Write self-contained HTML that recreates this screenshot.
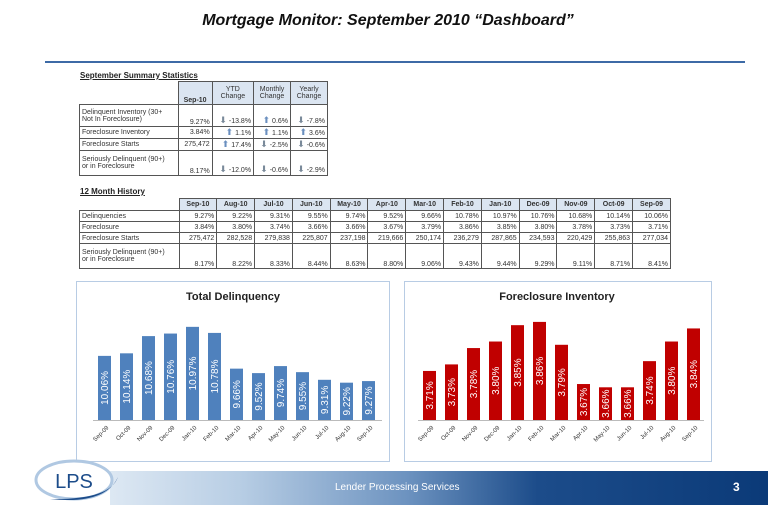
<!DOCTYPE html>
<html><head><meta charset="utf-8"><style>
body{margin:0;width:768px;height:511px;background:#fff;position:relative;overflow:hidden;font-family:"Liberation Sans",sans-serif}
.a{position:absolute}
table{border-collapse:collapse;position:absolute;font-size:7px;color:#333}
td{border:1px solid #555;padding:0 2px;height:10px;text-align:right;white-space:nowrap}
td.l{text-align:left}
th{background:#dbe5f1;border:1px solid #555;font-weight:bold;font-size:7px;padding:0 2px;text-align:center}
.up{color:#6a8fbf;font-size:9px}.dn{color:#7a8a9a;font-size:9px}
.st{font-size:8px;font-weight:bold;text-decoration:underline;color:#222}
</style></head><body>
<div class="a" style="left:0;width:776px;top:12px;text-align:center;font-size:16px;font-weight:bold;font-style:italic;color:#111">Mortgage Monitor: September 2010 “Dashboard”</div>
<div class="a" style="left:45px;width:700px;top:61px;height:2px;background:#3d6aa6"></div>
<div class="a st" style="left:80px;top:71px">September Summary Statistics</div>
<table style="left:79px;top:81px;width:249px">
<tr style="height:23px"><td style="border:none;border-right:1px solid #555;width:94px"></td><th style="vertical-align:bottom">Sep-10</th><th style="font-weight:normal">YTD<br>Change</th><th style="font-weight:normal">Monthly<br>Change</th><th style="font-weight:normal">Yearly<br>Change</th></tr>
<tr style="height:22px"><td class="l">Delinquent Inventory (30+<br>Not In Foreclosure)</td><td style="vertical-align:bottom">9.27%</td><td style="vertical-align:bottom"><span class="dn">⬇</span> -13.8%</td><td style="vertical-align:bottom"><span class="up">⬆</span> 0.6%</td><td style="vertical-align:bottom"><span class="dn">⬇</span> -7.8%</td></tr>
<tr><td class="l">Foreclosure Inventory</td><td>3.84%</td><td><span class="up">⬆</span> 1.1%</td><td><span class="up">⬆</span> 1.1%</td><td><span class="up">⬆</span> 3.6%</td></tr>
<tr><td class="l">Foreclosure Starts</td><td>275,472</td><td><span class="up">⬆</span> 17.4%</td><td><span class="dn">⬇</span> -2.5%</td><td><span class="dn">⬇</span> -0.6%</td></tr>
<tr style="height:25px"><td class="l">Seriously Delinquent (90+)<br>or in Foreclosure</td><td style="vertical-align:bottom">8.17%</td><td style="vertical-align:bottom"><span class="dn">⬇</span> -12.0%</td><td style="vertical-align:bottom"><span class="dn">⬇</span> -0.6%</td><td style="vertical-align:bottom"><span class="dn">⬇</span> -2.9%</td></tr>
</table>
<div class="a st" style="left:80px;top:187px">12 Month History</div>
<table style="left:79px;top:198px;width:592px">
<tr style="height:12px"><td style="border:none;border-right:1px solid #555;width:95px"></td><th>Sep-10</th><th>Aug-10</th><th>Jul-10</th><th>Jun-10</th><th>May-10</th><th>Apr-10</th><th>Mar-10</th><th>Feb-10</th><th>Jan-10</th><th>Dec-09</th><th>Nov-09</th><th>Oct-09</th><th>Sep-09</th></tr>
<tr><td class="l">Delinquencies</td><td>9.27%</td><td>9.22%</td><td>9.31%</td><td>9.55%</td><td>9.74%</td><td>9.52%</td><td>9.66%</td><td>10.78%</td><td>10.97%</td><td>10.76%</td><td>10.68%</td><td>10.14%</td><td>10.06%</td></tr>
<tr><td class="l">Foreclosure</td><td>3.84%</td><td>3.80%</td><td>3.74%</td><td>3.66%</td><td>3.66%</td><td>3.67%</td><td>3.79%</td><td>3.86%</td><td>3.85%</td><td>3.80%</td><td>3.78%</td><td>3.73%</td><td>3.71%</td></tr>
<tr><td class="l">Foreclosure Starts</td><td>275,472</td><td>282,528</td><td>279,838</td><td>225,807</td><td>237,198</td><td>219,666</td><td>250,174</td><td>236,279</td><td>287,865</td><td>234,593</td><td>220,429</td><td>255,863</td><td>277,034</td></tr>
<tr style="height:25px"><td class="l">Seriously Delinquent (90+)<br>or in Foreclosure</td><td style="vertical-align:bottom">8.17%</td><td style="vertical-align:bottom">8.22%</td><td style="vertical-align:bottom">8.33%</td><td style="vertical-align:bottom">8.44%</td><td style="vertical-align:bottom">8.63%</td><td style="vertical-align:bottom">8.80%</td><td style="vertical-align:bottom">9.06%</td><td style="vertical-align:bottom">9.43%</td><td style="vertical-align:bottom">9.44%</td><td style="vertical-align:bottom">9.29%</td><td style="vertical-align:bottom">9.11%</td><td style="vertical-align:bottom">8.71%</td><td style="vertical-align:bottom">8.41%</td></tr>
</table>
<svg class="a" style="left:0;top:0" width="768" height="511" font-family="Liberation Sans, sans-serif">
<rect x="76.5" y="281.5" width="313" height="180" fill="none" stroke="#b8cce4"/>
<rect x="404.5" y="281.5" width="307" height="180" fill="none" stroke="#b8cce4"/>
<text x="233" y="300" text-anchor="middle" font-size="11" font-weight="bold" fill="#222">Total Delinquency</text>
<text x="557" y="300" text-anchor="middle" font-size="11" font-weight="bold" fill="#222">Foreclosure Inventory</text>
<line x1="93" y1="420.5" x2="382" y2="420.5" stroke="#bbb"/>
<line x1="418" y1="420.5" x2="704" y2="420.5" stroke="#bbb"/>
<g id="g1"></g>
</svg>
<div class="a" style="left:110px;top:471px;width:658px;height:34px;background:linear-gradient(90deg,#dde8f3 0%,#b7cde4 20%,#6d93c0 45%,#1c4c8a 65%,#0b3a78 100%)"></div>
<div class="a" style="left:335px;top:482px;color:#fff;font-size:10px">Lender Processing Services</div>
<div class="a" style="left:733px;top:480px;color:#fff;font-size:12px;font-weight:bold">3</div>
<svg class="a" style="left:30px;top:455px" width="95" height="55"><ellipse cx="44" cy="25" rx="38" ry="19" fill="#fff" stroke="#b0c8e2" stroke-width="3"/><path d="M20 44 Q75 50 88 22 Q80 45 20 44Z" fill="#1c4c8a"/><text x="44" y="33" text-anchor="middle" font-size="20" fill="#1c4c8a" font-family="Liberation Sans">LPS</text></svg>
<script>
const m=["Sep-09","Oct-09","Nov-09","Dec-09","Jan-10","Feb-10","Mar-10","Apr-10","May-10","Jun-10","Jul-10","Aug-10","Sep-10"];
const d=[10.06,10.14,10.68,10.76,10.97,10.78,9.66,9.52,9.74,9.55,9.31,9.22,9.27];
const f=[3.71,3.73,3.78,3.80,3.85,3.86,3.79,3.67,3.66,3.66,3.74,3.80,3.84];
let s="";
function ch(x0,vals,base,sc,col){vals.forEach((v,i)=>{const x=x0+i*22,h=(v-base)*sc,y=420-h;
s+=`<rect x="${x}" y="${y}" width="13" height="${h}" fill="${col}"/>`;
const cx=x+6.5+3.5,cy=Math.min(y+h/2,405);s+=`<text transform="translate(${cx},${cy}) rotate(-90)" text-anchor="middle" font-size="10" fill="#fff">${v.toFixed(2)}%</text>`;
const lx=x+11;s+=`<text transform="translate(${lx},428) rotate(-45)" text-anchor="end" font-size="6" fill="#333">${m[i]}</text>`;});}
ch(98,d,8.05,31.9,"#4f81bd");ch(423,f,3.56,327,"#c00000");
document.getElementById("g1").innerHTML=s;
</script>
</body></html>
